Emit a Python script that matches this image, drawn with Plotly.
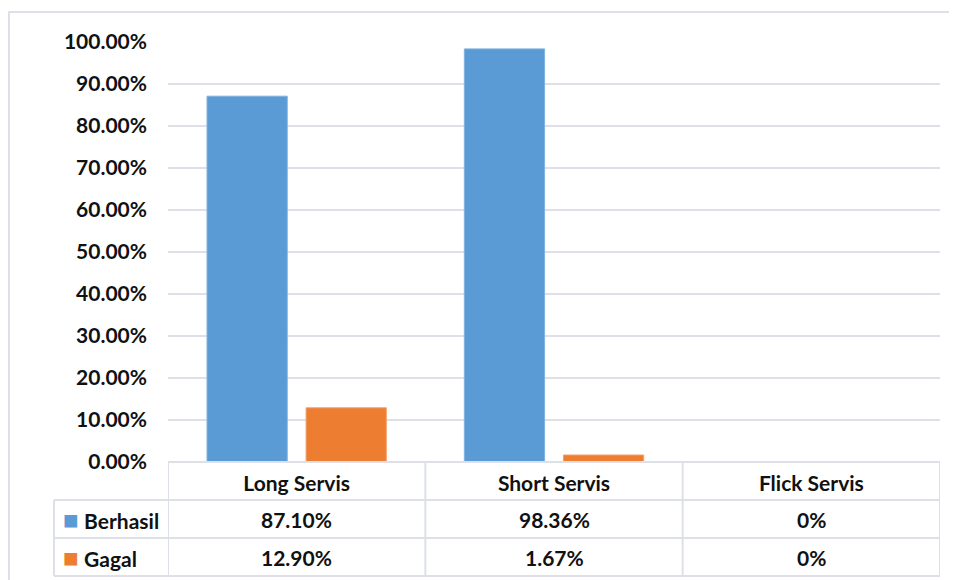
import plotly.graph_objects as go

# data
CATEGORIES = ["Long Servis", "Short Servis", "Flick Servis"]
SERIES = ["Berhasil", "Gagal"]
BERHASIL = [0.8710, 0.9836, 0.0]
GAGAL = [0.1290, 0.0167, 0.0]
BERHASIL_TEXT = ["87.10%", "98.36%", "0%"]
GAGAL_TEXT = ["12.90%", "1.67%", "0%"]

# the page body has an 8px margin, so the figure is 8px smaller than the window
W, H = 949, 572
BLUE = "#5B9BD5"
ORANGE = "#ED7D31"
GRID = "#DDE1E7"
FONT = "Lato"
TXT = "#111111"

# pixel layout of the Excel-like data table under the plot
PLOT_L, PLOT_R, PLOT_T, PLOT_B = 160, 932, 34, 454
TABLE_L = 46
ROW_H = 38


def px_x(x):
    return x / W


def px_y(y):
    return 1 - y / H


fig = go.Figure()

fig.add_trace(go.Bar(
    x=CATEGORIES, y=BERHASIL, name=SERIES[0],
    marker=dict(color=BLUE, line=dict(color="#7FB2E3", width=1)),
    hoverinfo="skip",
))
fig.add_trace(go.Bar(
    x=CATEGORIES, y=GAGAL, name=SERIES[1],
    marker=dict(color=ORANGE, line=dict(color="#F4A06A", width=1)),
    hoverinfo="skip",
))

notes = []
shapes = []

# table values: one row per series, one column per category
rows = [(SERIES[0], BLUE, BERHASIL_TEXT), (SERIES[1], ORANGE, GAGAL_TEXT)]
for i, (name, col, texts) in enumerate(rows):
    yc = px_y(PLOT_B + ROW_H * (i + 1) + ROW_H / 2)
    notes.append(dict(
        xref="paper", yref="paper", x=px_x(TABLE_L + 7), y=yc,
        xanchor="left", yanchor="middle", showarrow=False,
        text="<span style='color:%s;font-size:26px'>■</span> <b>%s</b>" % (col, name),
        font=dict(family=FONT, size=21, color=TXT),
    ))
    for cat, t in zip(CATEGORIES, texts):
        notes.append(dict(
            xref="x", yref="paper", x=cat, y=yc,
            xanchor="center", yanchor="middle", showarrow=False,
            text="<b>%s</b>" % t,
            font=dict(family=FONT, size=21, color=TXT),
        ))

# table grid
line = dict(color=GRID, width=2)
n = len(CATEGORIES)
for k in range(n + 1):
    shapes.append(dict(type="line", xref="x", yref="paper",
                       x0=k - 0.5, x1=k - 0.5,
                       y0=px_y(PLOT_B), y1=px_y(PLOT_B + 3 * ROW_H), line=line))
shapes.append(dict(type="line", xref="paper", yref="paper",
                   x0=px_x(TABLE_L), x1=px_x(TABLE_L),
                   y0=px_y(PLOT_B + ROW_H), y1=px_y(PLOT_B + 3 * ROW_H), line=line))
shapes.append(dict(type="line", xref="paper", yref="paper",
                   x0=px_x(PLOT_L), x1=px_x(PLOT_R),
                   y0=px_y(PLOT_B), y1=px_y(PLOT_B), line=line))
for r in range(1, 4):
    shapes.append(dict(type="line", xref="paper", yref="paper",
                       x0=px_x(TABLE_L), x1=px_x(PLOT_R),
                       y0=px_y(PLOT_B + r * ROW_H), y1=px_y(PLOT_B + r * ROW_H), line=line))

# chart frame (top and left edges visible)
shapes.append(dict(type="line", xref="paper", yref="paper",
                   x0=0, x1=1.01, y0=px_y(4), y1=px_y(4), line=line))
shapes.append(dict(type="line", xref="paper", yref="paper",
                   x0=px_x(1), x1=px_x(1), y0=px_y(4), y1=-0.01, line=line))

fig.update_layout(
    width=W, height=H,
    margin=dict(l=0, r=0, t=0, b=0),
    paper_bgcolor="white",
    plot_bgcolor="white",
    showlegend=False,
    barmode="group",
    bargap=0.23,
    bargroupgap=0.19,
    font=dict(family=FONT, color=TXT),
    annotations=notes,
    shapes=shapes,
)

fig.update_xaxes(
    domain=[px_x(PLOT_L), px_x(PLOT_R)],
    range=[-0.5, n - 0.5],
    tickfont=dict(family=FONT, size=21, color=TXT, weight="bold"),
    ticks="",
    ticklabelstandoff=7,
    showgrid=False,
    zeroline=False,
    showline=False,
    automargin=False,
    fixedrange=True,
)
fig.update_yaxes(
    domain=[px_y(PLOT_B), px_y(PLOT_T)],
    range=[0, 1],
    dtick=0.1,
    tickformat=".2%",
    showgrid=True,
    gridcolor=GRID,
    gridwidth=2,
    zeroline=False,
    showline=False,
    automargin=False,
    ticklabelstandoff=20,
    tickfont=dict(family=FONT, size=21, color=TXT, weight="bold"),
    fixedrange=True,
)

fig.write_html("out.html")
